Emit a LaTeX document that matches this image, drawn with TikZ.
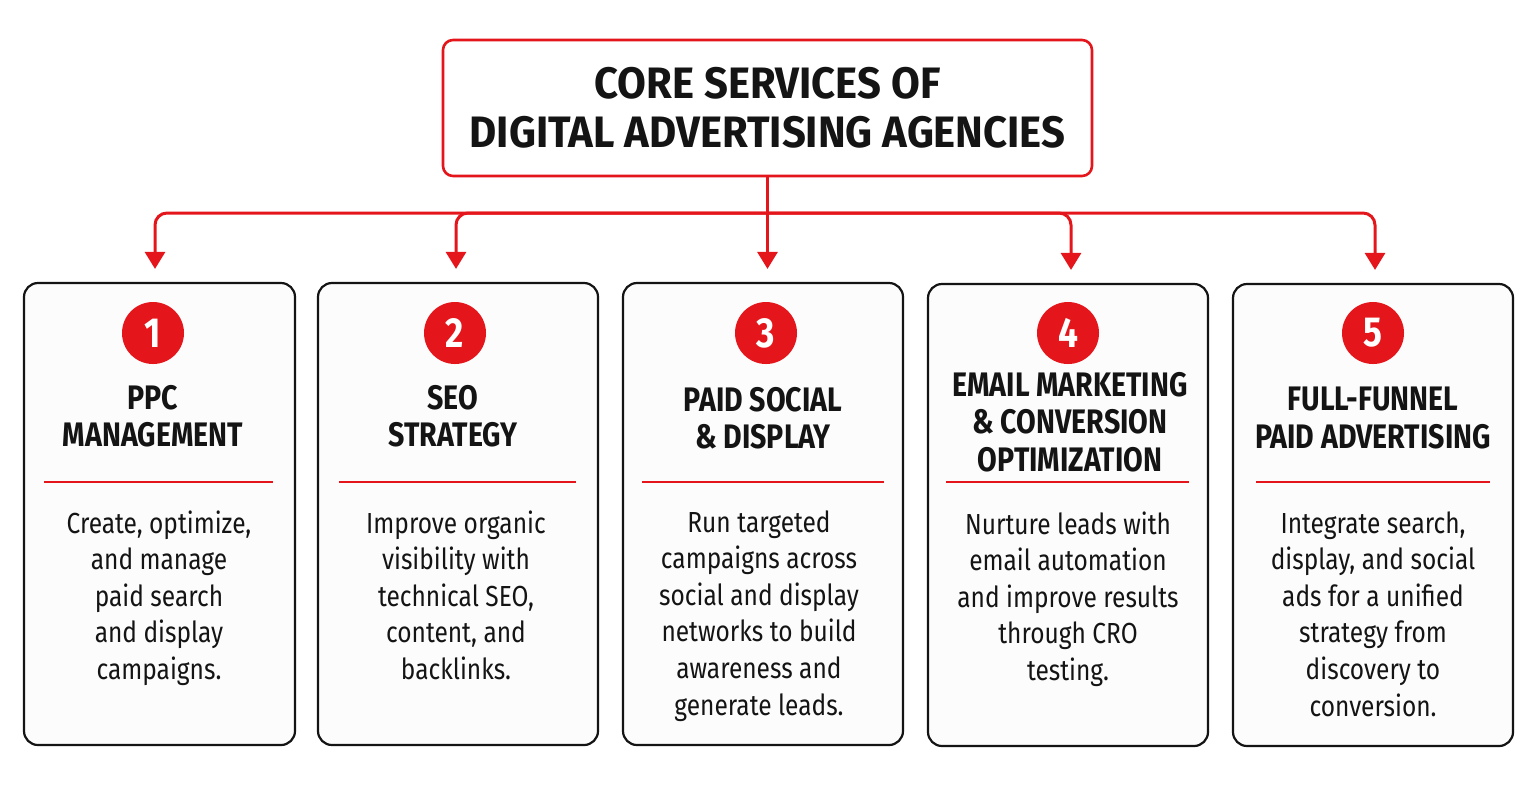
\documentclass[tikz,border=0pt]{standalone}
\usepackage{fontspec}
\setmainfont{Fira Sans}
\newfontfamily\titlefont[FakeStretch=0.95]{Fira Sans}
\newfontfamily\headfont[FakeStretch=0.84]{Fira Sans}
\newfontfamily\bodyfont[FakeStretch=0.845]{Fira Sans}
\usepackage{tikz}
\usetikzlibrary{positioning,arrows.meta}
\definecolor{adred}{RGB}{228,22,28}
\definecolor{cardfill}{RGB}{252,252,252}
\definecolor{ink}{RGB}{20,20,20}
\tikzset{
  titlebox/.style = {shape=rectangle, rounded corners=5pt, draw=adred,
                     line width=1.3pt, fill=white, align=center,
                     minimum width=324.5pt, minimum height=68pt, text=ink,
                     font=\titlefont\bfseries\fontsize{22}{24.5}\selectfont},
  card/.style     = {shape=rectangle, rounded corners=7pt, draw=ink,
                     line width=1.1pt, fill=cardfill,
                     minimum width=140pt, minimum height=231pt},
  badge/.style    = {circle, fill=adred, minimum size=31pt, inner sep=0pt,
                     text=white, font=\headfont\bfseries\fontsize{21}{21}\selectfont},
  heading/.style  = {align=center, text=ink,
                     font=\headfont\bfseries\fontsize{17}{18.75}\selectfont},
  body/.style     = {align=center, anchor=north, inner sep=0pt, text=ink,
                     font=\bodyfont\fontsize{14.5}{18.3}\selectfont},
  rule/.style     = {draw=adred, line width=1.3pt},
  link/.style     = {draw=adred, line width=1.5pt, rounded corners=6pt,
                     -{Triangle[width=10pt,length=8.5pt]}, shorten >=6.5pt}
}

\begin{document}
\begin{tikzpicture}[x=0.5pt, y=-0.5pt]
  \useasboundingbox [fill=white] (0,0) rectangle (1535,789);

  \node [titlebox] (title) at (767.5,108) {CORE SERVICES OF\\DIGITAL ADVERTISING AGENCIES};

  \node [card, minimum width=135.5pt] (c1) at (159.5,514) {};
  \node [card] (c2) at (458,514) {};
  \node [card] (c3) at (763,514) {};
  \node [card] (c4) at (1068,515) {};
  \node [card] (c5) at (1373,515) {};

  \coordinate (bus) at (767.5,213);
  \draw [link] (title.south) -- (title.south |- c3.north);
  \draw [link] (bus) -| ([xshift=-2.25pt]c1.north);
  \draw [link] (bus) -| ([xshift=-1pt]c2.north);
  \draw [link] (bus) -| ([xshift=1.5pt]c4.north);
  \draw [link] (bus) -| ([xshift=1pt]c5.north);

  \node [badge] (n1) at (153,333) {1};
  \node [badge] (n2) at (455,333) {2};
  \node [badge] (n3) at (766,333) {3};
  \node [badge] (n4) at (1068,333) {4};
  \node [badge] (n5) at (1373,333) {5};

  \node [heading] (h1) at (153,416) {PPC\\MANAGEMENT};
  \node [heading] (h2) at (453,416) {SEO\\STRATEGY};
  \node [heading] (h3) at (763,418) {PAID SOCIAL\\\& DISPLAY};
  \node [heading] (h4) at (1070,422) {EMAIL MARKETING\\\& CONVERSION\\OPTIMIZATION};
  \node [heading] (h5) at (1373,418) {FULL-FUNNEL\\PAID ADVERTISING};

  \draw [rule] (44,482) -- (273,482);
  \draw [rule] (339,482) -- (576,482);
  \draw [rule] (642,482) -- (884,482);
  \draw [rule] (946,482) -- (1189,482);
  \draw [rule] (1256,482) -- (1490,482);

  \node [body] (b1) at (159,510) {Create, optimize,\\and manage\\paid search\\and display\\campaigns.};
  \node [body] (b2) at (456,510) {Improve organic\\visibility with\\technical SEO,\\content, and\\backlinks.};
  \node [body] (b3) at (759,510) {Run targeted\\campaigns across\\social and display\\networks to build\\awareness and\\generate leads.};
  \node [body] (b4) at (1068,511) {Nurture leads with\\email automation\\and improve results\\through CRO\\testing.};
  \node [body] (b5) at (1373,511) {Integrate search,\\display, and social\\ads for a unified\\strategy from\\discovery to\\conversion.};
\end{tikzpicture}
\end{document}
